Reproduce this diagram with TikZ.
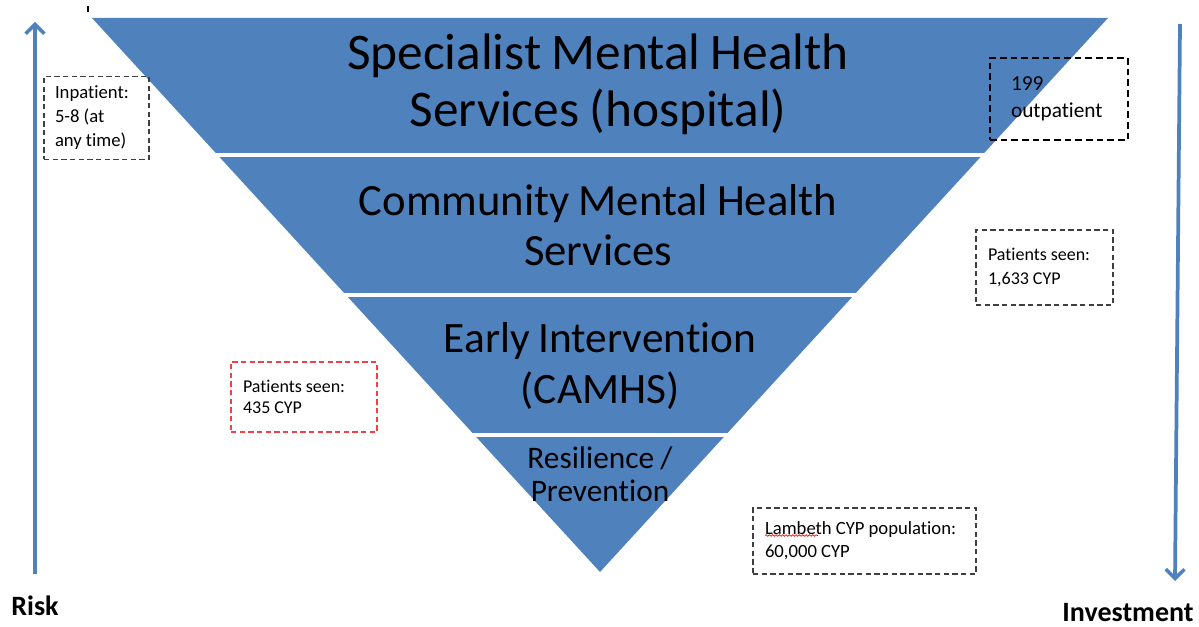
\documentclass[tikz,border=0pt]{standalone}
\usepackage{fontspec}
\setmainfont{Carlito}[Ligatures={NoCommon}]
\usetikzlibrary{arrows.meta,decorations.pathmorphing}
\definecolor{pblue}{HTML}{4F81BD}
\definecolor{dgray}{HTML}{3F3F3F}
\definecolor{dred}{HTML}{F0404A}
\begin{document}
\begin{tikzpicture}[x={(0.75pt,0)},y={(0,-0.75pt)},
  band/.style={font=\fontsize{#1}{#1}\selectfont, align=center, text=black, execute at begin node={\spaceskip=0.2em\relax}},
  infobox/.style={draw=dgray, line width=1.1pt, dash pattern=on 4pt off 2.5pt, align=left, inner ysep=0pt, anchor=center, execute at begin node={\spaceskip=0.22em\relax}},
  ax/.style={draw=pblue, line width=2.8pt, -{Straight Barb[length=7pt,width=14pt,line width=2.6pt]}},
  axlabel/.style={font=\fontsize{21}{21}\selectfont\bfseries, anchor=base}]
\useasboundingbox (0,0) rectangle (1199,627);
% pyramid
\coordinate (tl) at (92,18);
\coordinate (tr) at (1108,18);
\coordinate (ap) at (600,572);
\fill[pblue] (tl) -- (tr) -- (ap) -- cycle;
\draw[white, line width=3pt] (214,155) -- (986,155);
\draw[white, line width=3pt] (343,295) -- (857,295);
\draw[white, line width=3pt] (471,435) -- (729,435);
% band texts
\node[band=38.5, text width=600pt] (spec) at (598,84) {Specialist Mental Health\\[4pt]Services (hospital)};
\node[band=33.5, text width=600pt] (comm) at (598,225) {Community Mental Health\\[4pt]Services};
\node[band=32.5, text width=400pt] (early) at (600,366) {Early Intervention\\[6pt](CAMHS)};
\node[band=23.5, text width=200pt] (res) at (600,474) {Resilience /\\[1pt]Prevention};
% info boxes
\node[infobox, minimum width=78.75pt, minimum height=62.25pt, text width=62.25pt, inner xsep=8.25pt,
  font=\fontsize{14}{18}\selectfont] (inp) at (96.5,118) {Inpatient:\\5-8 (at\\any time)};
\node[infobox, draw=black, line width=1.5pt, dash pattern=on 5pt off 3pt, minimum width=103.5pt, minimum height=61.5pt, text width=72pt, inner xsep=15.75pt,
  font=\fontsize{16}{20.5}\selectfont] (outp) at (1059,99) {199\\outpatient};
\node[infobox, minimum width=102.75pt, minimum height=56.25pt, text width=84.75pt, inner xsep=9pt,
  font=\fontsize{13.5}{18}\selectfont] (comms) at (1044.5,267.5) {Patients seen:\\1,633 CYP\\[-4pt]};
\node[infobox, draw=dred, line width=0.9pt, dash pattern=on 4pt off 2.5pt, minimum width=109.5pt, minimum height=52.5pt, text width=91.5pt, inner xsep=9pt,
  font=\fontsize{13.5}{16}\selectfont] (camhs) at (304,397) {Patients seen:\\435 CYP\\[-5pt]};
\node[infobox, minimum width=167.25pt, minimum height=49.5pt, text width=149.25pt, inner xsep=9pt,
  font=\fontsize{14}{17}\selectfont] (lamb) at (864.5,541) {Lambeth CYP population:\\60,000 CYP\\[-3pt]};
\draw[red, line width=0.5pt, decorate, decoration={snake, amplitude=0.6pt, segment length=2.5pt}] (765,535.5) -- (818,535.5);
% axes
\coordinate (rb) at (35,574);
\coordinate (rt) at (35,22);
\coordinate (it) at (1180,24);
\coordinate (ib) at (1175,581);
\draw[ax] (rb) -- (rt);
\draw[ax] (it) -- (ib);
\node[axlabel] (risk) at (35,615) {Risk};
\node[axlabel] (inv) at (1128,621) {Investment};
% stray tick
\draw[black, line width=1.2pt] (88,6) -- (88,12);
\end{tikzpicture}
\end{document}
